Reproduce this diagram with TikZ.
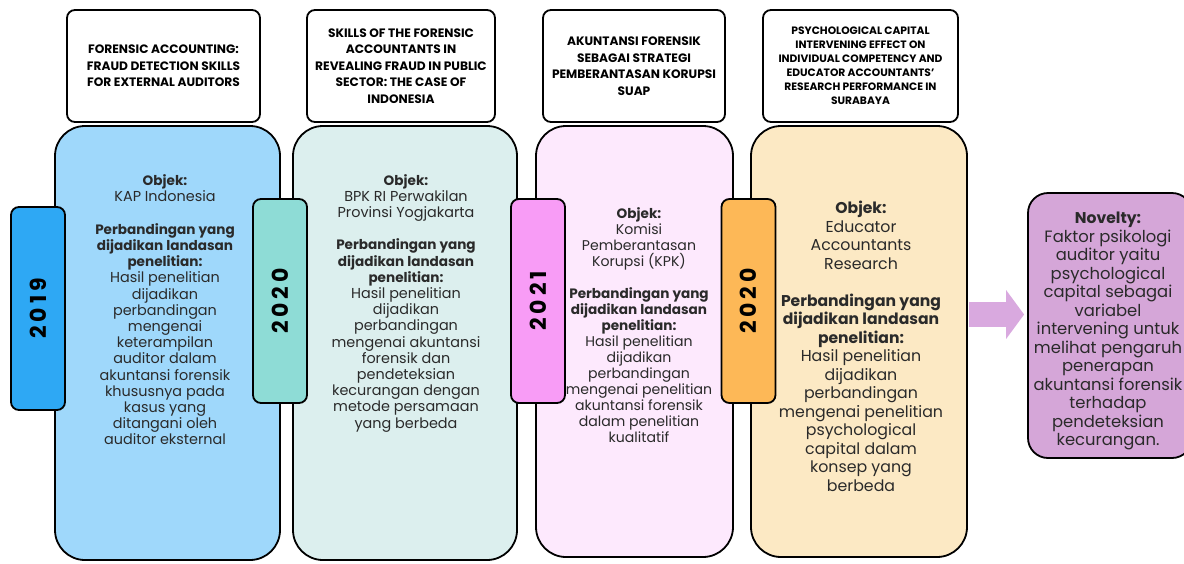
\documentclass[tikz,border=0pt]{standalone}
\usepackage{fontspec}
\setmainfont{Poppins}
\usetikzlibrary{arrows.meta}
\definecolor{boxA}{HTML}{9FD8FB}
\definecolor{boxB}{HTML}{DCEFEE}
\definecolor{boxC}{HTML}{FDE9FD}
\definecolor{boxD}{HTML}{FCE9C4}
\definecolor{tabA}{HTML}{2EA8F4}
\definecolor{tabB}{HTML}{8EDCD6}
\definecolor{tabC}{HTML}{F89CF6}
\definecolor{tabD}{HTML}{FDB857}
\definecolor{novcol}{HTML}{D5A6D8}
\definecolor{arrcol}{HTML}{D9A9DF}
\definecolor{bodytxt}{HTML}{2A2A2A}
\newcommand{\hd}[1]{{\fontsize{13.6}{16.2}\selectfont\bfseries #1}}
\newcommand{\hdb}[1]{{\fontsize{15.6}{18.5}\selectfont\bfseries #1}}
\begin{document}
\begin{tikzpicture}[x=1pt,y=-1pt,
  titlebox/.style={draw=black, line width=1.8pt, rounded corners=8pt, fill=white,
    align=center, inner sep=0pt, text=black,
    font=\bfseries\fontsize{12.2}{16.5}\selectfont},
  bigbox/.style={draw=black, line width=1.8pt, rounded corners=30pt, inner sep=0pt},
  yeartab/.style={draw=black, line width=1.8pt, rounded corners=8pt, inner sep=0pt,
    minimum width=54pt, minimum height=204pt},
  yeartext/.style={rotate=90, text=black,
    font=\fontsize{22}{26}\selectfont\bfseries\addfontfeatures{LetterSpace=18}},
  bodytext/.style={align=center, text=bodytxt, inner sep=0pt,
    font=\fontsize{14.4}{16.2}\selectfont},
  bigtext/.style={align=center, text=bodytxt, inner sep=0pt,
    font=\fontsize{15.8}{18.5}\selectfont}]
\useasboundingbox (0,0) rectangle (1184,563);
\clip (0,0) rectangle (1184,563);
\fill[white] (0,0) rectangle (1184,563);

% title boxes
\node[titlebox, minimum width=193pt, minimum height=112pt] (h1) at (163.5,66)
  {FORENSIC ACCOUNTING:\\FRAUD DETECTION SKILLS\\FOR EXTERNAL AUDITORS};
\node[titlebox, minimum width=188pt, minimum height=112pt] (h2) at (401,66)
  {SKILLS OF THE FORENSIC\\ACCOUNTANTS IN\\REVEALING FRAUD IN PUBLIC\\SECTOR: THE CASE OF\\INDONESIA};
\node[titlebox, minimum width=182pt, minimum height=112pt] (h3) at (634,66)
  {AKUNTANSI FORENSIK\\SEBAGAI STRATEGI\\PEMBERANTASAN KORUPSI\\SUAP};
\node[titlebox, minimum width=195pt, minimum height=112pt,
  font=\bfseries\fontsize{10.7}{14}\selectfont] (h4) at (860.5,66)
  {PSYCHOLOGICAL CAPITAL\\INTERVENING EFFECT ON\\INDIVIDUAL COMPETENCY AND\\EDUCATOR ACCOUNTANTS'\\RESEARCH PERFORMANCE IN\\SURABAYA};

% arrow start
\coordinate (arrstart) at (969,314.5);

% big boxes
\node[bigbox, fill=boxA, minimum width=225pt, minimum height=434pt] (b1) at (167.5,343) {};
\node[bigbox, fill=boxB, minimum width=224pt, minimum height=434pt] (b2) at (405,343) {};
\node[bigbox, fill=boxC, minimum width=197pt, minimum height=431pt] (b3) at (634.5,341.5) {};
\node[bigbox, fill=boxD, minimum width=216pt, minimum height=431pt] (b4) at (859,341.5) {};

% novelty box
\node[bigbox, rounded corners=20pt, fill=novcol, minimum width=164pt, minimum height=265pt] (nov) at (1110,325.5) {};
\draw[arrcol, line width=25pt, -{Triangle[length=18pt, width=48pt]}]
  (arrstart) -- ([xshift=-3pt]nov.west |- arrstart);

% body texts
\node[bodytext] (t1) at (165,310)
  {\hd{Objek:}\\KAP Indonesia\\[16.2pt]
   \hd{Perbandingan yang}\\\hd{dijadikan landasan}\\\hd{penelitian:}\\
   Hasil penelitian\\dijadikan\\perbandingan\\mengenai\\keterampilan\\auditor dalam\\
   akuntansi forensik\\khususnya pada\\kasus yang\\ditangani oleh\\auditor eksternal};
\node[bodytext] (t2) at (406,303)
  {\hd{Objek:}\\BPK RI Perwakilan\\Provinsi Yogjakarta\\[16.2pt]
   \hd{Perbandingan yang}\\\hd{dijadikan landasan}\\\hd{penelitian:}\\
   Hasil penelitian\\dijadikan\\perbandingan\\mengenai akuntansi\\forensik dan\\
   pendeteksian\\kecurangan dengan\\metode persamaan\\yang berbeda};
\node[bodytext, font=\fontsize{14.1}{16}\selectfont] (t3) at (639,325)
  {\hd{Objek:}\\Komisi\\Pemberantasan\\Korupsi (KPK)\\[16pt]
   \hd{Perbandingan yang}\\\hd{dijadikan landasan}\\\hd{penelitian:}\\
   Hasil penelitian\\dijadikan\\perbandingan\\mengenai penelitian\\akuntansi forensik\\
   dalam penelitian\\kualitatif};
\node[bigtext] (t4) at (861,346.5)
  {\hdb{Objek:}\\Educator\\Accountants\\Research\\[18.5pt]
   \hdb{Perbandingan yang}\\\hdb{dijadikan landasan}\\\hdb{penelitian:}\\
   Hasil penelitian\\dijadikan\\perbandingan\\mengenai penelitian\\psychological\\
   capital dalam\\konsep yang\\berbeda};
\node[bigtext, font=\fontsize{16.4}{18.5}\selectfont] (t5) at (1108,331)
  {\hdb{Novelty:}\\Faktor psikologi\\auditor yaitu\\psychological\\capital sebagai\\
   variabel\\intervening untuk\\melihat pengaruh\\penerapan\\akuntansi forensik\\
   terhadap\\pendeteksian\\kecurangan.};

% year tabs
\node[yeartab, fill=tabA, minimum height=203pt] (y1) at (38,308.5) {};
\node[yeartext] (y1t) at (y1) {2019};
\node[yeartab, fill=tabB] (y2) at (280,301) {};
\node[yeartext] (y2t) at (y2) {2020};
\node[yeartab, fill=tabC] (y3) at (538,301) {};
\node[yeartext] (y3t) at (y3) {2021};
\node[yeartab, fill=tabD] (y4) at (748.5,301) {};
\node[yeartext] (y4t) at (y4) {2020};
\end{tikzpicture}
\end{document}
